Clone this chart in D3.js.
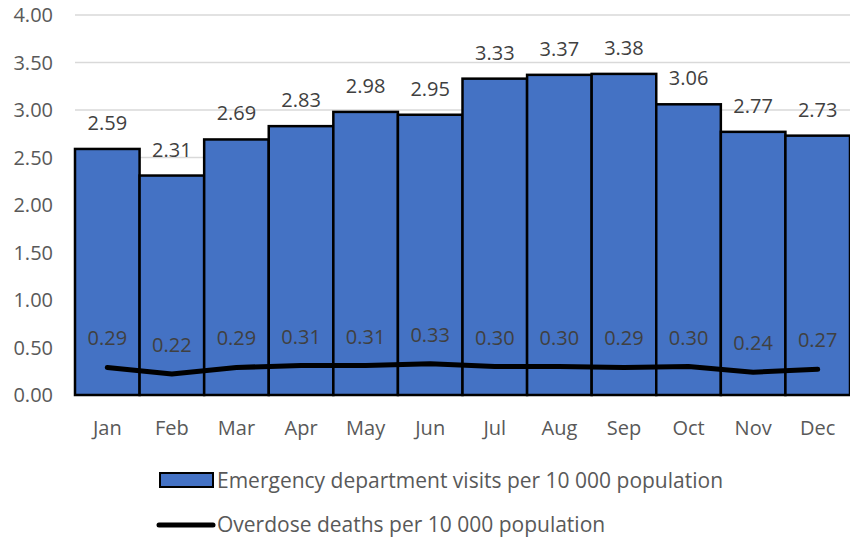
<!DOCTYPE html>
<html>
<head>
<meta charset="utf-8">
<script src="https://d3js.org/d3.v7.min.js"></script>
<style>
  body { margin: 0; background: #fff; }
  text { font-family: "Open Sans", "Noto Sans", sans-serif; fill: #595959; }
</style>
</head>
<body>
<svg width="850" height="540"></svg>
<script>
var months = ["Jan", "Feb", "Mar", "Apr", "May", "Jun", "Jul", "Aug", "Sep", "Oct", "Nov", "Dec"];
var edVisits = [2.59, 2.31, 2.69, 2.83, 2.98, 2.95, 3.33, 3.37, 3.38, 3.06, 2.77, 2.73];
var deaths = [0.29, 0.22, 0.29, 0.31, 0.31, 0.33, 0.30, 0.30, 0.29, 0.30, 0.24, 0.27];
var yTicks = [0, 0.5, 1, 1.5, 2, 2.5, 3, 3.5, 4];
var legendLabels = ["Emergency department visits per 10 000 population", "Overdose deaths per 10 000 population"];

var svg = d3.select("svg");
var plotLeft = 75, plotRight = 850, plotTop = 15, plotBottom = 395;
var fs = "20px";

var x = d3.scaleBand().domain(months).range([plotLeft, plotRight]).padding(0);
var y = d3.scaleLinear().domain([0, 4]).range([plotBottom, plotTop]);

// gridlines
svg.append("g").selectAll("line")
  .data(yTicks).enter().append("line")
  .attr("x1", plotLeft).attr("x2", plotRight)
  .attr("y1", d => y(d)).attr("y2", d => y(d))
  .attr("stroke", "#d9d9d9").attr("stroke-width", 1.5);

// y labels
svg.append("g").selectAll("text")
  .data(yTicks).enter().append("text")
  .attr("x", 53).attr("y", d => y(d))
  .attr("dy", "0.35em")
  .attr("text-anchor", "end")
  .style("font-size", fs)
  .text(d => d3.format(".2f")(d));

// bars
svg.append("g").selectAll("rect")
  .data(edVisits).enter().append("rect")
  .attr("x", (d, i) => x(months[i]))
  .attr("y", d => y(d))
  .attr("width", x.bandwidth())
  .attr("height", d => plotBottom - y(d))
  .attr("fill", "#4472c4")
  .attr("stroke", "#000")
  .attr("stroke-width", 2.5);

// bar labels
svg.append("g").selectAll("text")
  .data(edVisits).enter().append("text")
  .attr("x", (d, i) => x(months[i]) + x.bandwidth() / 2)
  .attr("y", d => y(d) - 26)
  .attr("dy", "0.35em")
  .attr("text-anchor", "middle")
  .style("font-size", fs)
  .style("fill", "#404040")
  .text(d => d3.format(".2f")(d));

// line
var line = d3.line()
  .x((d, i) => x(months[i]) + x.bandwidth() / 2)
  .y(d => y(d));

svg.append("path")
  .datum(deaths)
  .attr("d", line)
  .attr("fill", "none")
  .attr("stroke", "#000")
  .attr("stroke-width", 5)
  .attr("stroke-linecap", "round")
  .attr("stroke-linejoin", "round");

// line labels
svg.append("g").selectAll("text")
  .data(deaths).enter().append("text")
  .attr("x", (d, i) => x(months[i]) + x.bandwidth() / 2)
  .attr("y", d => y(d) - 29)
  .attr("dy", "0.35em")
  .attr("text-anchor", "middle")
  .style("font-size", fs)
  .style("fill", "#404040")
  .text(d => d3.format(".2f")(d));

// x labels
svg.append("g").selectAll("text")
  .data(months).enter().append("text")
  .attr("x", d => x(d) + x.bandwidth() / 2)
  .attr("y", 428)
  .attr("dy", "0.35em")
  .attr("text-anchor", "middle")
  .style("font-size", fs)
  .text(d => d);

// legend
var lg = svg.append("g");
lg.append("rect")
  .attr("x", 160).attr("y", 473).attr("width", 53).attr("height", 14)
  .attr("fill", "#4472c4").attr("stroke", "#000").attr("stroke-width", 2);
lg.append("text")
  .attr("x", 217).attr("y", 481).attr("dy", "0.35em")
  .style("font-size", "21px")
  .text(legendLabels[0]);
lg.append("line")
  .attr("x1", 159).attr("x2", 213).attr("y1", 525).attr("y2", 525)
  .attr("stroke", "#000").attr("stroke-width", 5).attr("stroke-linecap", "round");
lg.append("text")
  .attr("x", 217).attr("y", 525).attr("dy", "0.35em")
  .style("font-size", "21px")
  .text(legendLabels[1]);
</script>
</body>
</html>
